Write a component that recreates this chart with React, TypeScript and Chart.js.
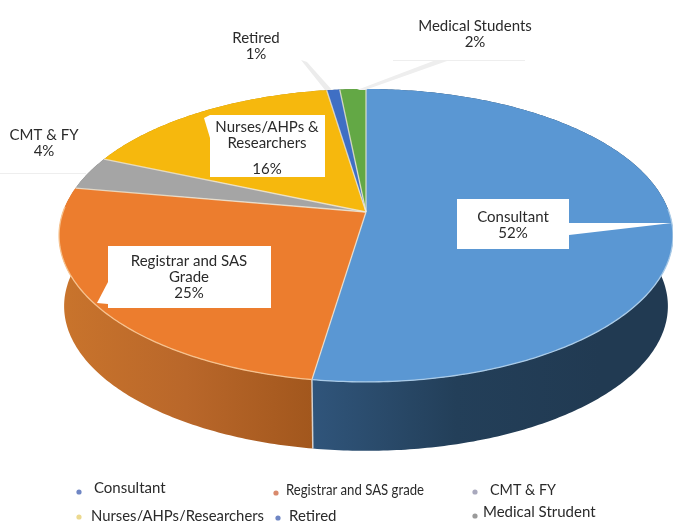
import React, { useEffect, useRef } from "react";
import { Chart, registerables } from "chart.js";

Chart.register(...registerables);

const categories = ["Consultant", "Registrar and SAS grade", "Nurses/AHPs/Researchers", "CMT & FY", "Retired", "Medical Strudent"];
// drawn clockwise from 12 o'clock
const sliceNames = ["Consultant", "Registrar and SAS grade", "CMT & FY", "Nurses/AHPs/Researchers", "Retired", "Medical Strudent"];
const sliceValues = [52.4, 25.36, 3.69, 16.15, 0.8, 1.6];
const sliceColors = ["#5a97d3", "#ec7d2e", "#a5a5a5", "#f6b80d", "#3f6fc4", "#63a845"];
const wallFrom = ["#30557b", "#c9742c", "#7d7d7d", "#b98a08", "#2f5493", "#4b7e34"];
const wallMid = ["#233f59", "#b9672a", "#7d7d7d", "#b98a08", "#2f5493", "#4b7e34"];
const wallTo = ["#213a52", "#a2571d", "#7d7d7d", "#b98a08", "#2f5493", "#4b7e34"];

const dataLabels = [
  { lines: ["Consultant", "52%"], x: 513, y: 217 },
  { lines: ["Registrar and SAS", "Grade", "25%"], x: 189, y: 261 },
  { lines: ["Nurses/AHPs &", "Researchers"], x: 267, y: 127 },
  { lines: ["16%"], x: 267, y: 169 },
  { lines: ["CMT & FY", "4%"], x: 44, y: 135 },
  { lines: ["Retired", "1%"], x: 256, y: 38 },
  { lines: ["Medical Students", "2%"], x: 475, y: 26 },
];

const legendEntries = [
  { name: categories[0], x: 94, y: 488, mx: 79, my: 492, color: "#6f86c4", width: 74 },
  { name: categories[1], x: 286, y: 490, mx: 276, my: 493, color: "#d98a6c", width: 138 },
  { name: categories[3], x: 490, y: 490, mx: 475, my: 492, color: "#a9a9bd", width: 66 },
  { name: categories[2], x: 91, y: 516, mx: 79, my: 517, color: "#ecd98f", width: 173 },
  { name: categories[4], x: 289, y: 516, mx: 278, my: 518, color: "#6f86c4", width: 50 },
  { name: categories[5], x: 483, y: 512, mx: 475, my: 516, color: "#9a9a9a", width: 115 },
];

const TOP = { cx: 366, cy: 212, a: 303, b: 142.7, k: 0.16 };
const BOTTOM = { cx: 366, cy: 283, a: 298, b: 141, k: 0.16 };

type Plane = typeof TOP;
const project = (p: Plane, theta: number) => {
  const u = Math.sin(theta);
  const v = -Math.cos(theta);
  const w = 1 - p.k * v;
  return [p.cx + (p.a * u) / w, p.cy + (p.b * v) / w];
};

const polygon = (ctx: CanvasRenderingContext2D, pts: number[][]) => {
  ctx.beginPath();
  pts.forEach((q, i) => (i ? ctx.lineTo(q[0], q[1]) : ctx.moveTo(q[0], q[1])));
  ctx.closePath();
};

const sampleRim = (p: Plane, t0: number, t1: number) => {
  const n = Math.max(2, Math.ceil((t1 - t0) * 80));
  const out: number[][] = [];
  for (let i = 0; i <= n; i++) out.push(project(p, t0 + ((t1 - t0) * i) / n));
  return out;
};

const pie3d = {
  id: "pie3d",
  beforeDatasetsDraw(chart: any) {
    const ctx: CanvasRenderingContext2D = chart.ctx;
    const arcs = chart.getDatasetMeta(0).data;
    const angles = arcs.map((el: any) => {
      const s = el.getProps(["startAngle", "endAngle"], true);
      return [s.startAngle + Math.PI / 2, s.endAngle + Math.PI / 2];
    });
    ctx.save();
    // side wall
    angles.forEach(([t0, t1]: number[], i: number) => {
      const top = sampleRim(TOP, t0, t1);
      const bot = sampleRim(BOTTOM, t0, t1).reverse();
      const g = i === 0
        ? ctx.createLinearGradient(312, 0, 600, 0)
        : ctx.createLinearGradient(60, 0, 312, 0);
      g.addColorStop(0, wallFrom[i]);
      g.addColorStop(0.5, wallMid[i]);
      g.addColorStop(1, wallTo[i]);
      polygon(ctx, [...top, ...bot]);
      ctx.fillStyle = g;
      ctx.fill();
    });
    // seam between the two front walls
    const seamA = project(TOP, angles[0][1]);
    const seamB = project(BOTTOM, angles[0][1]);
    ctx.strokeStyle = "rgba(225,225,225,0.85)";
    ctx.lineWidth = 1.5;
    ctx.beginPath();
    ctx.moveTo(seamA[0], seamA[1]);
    ctx.lineTo(seamB[0], seamB[1]);
    ctx.stroke();
    // top face
    angles.forEach(([t0, t1]: number[], i: number) => {
      polygon(ctx, [[TOP.cx, TOP.cy], ...sampleRim(TOP, t0, t1)]);
      ctx.fillStyle = sliceColors[i];
      ctx.fill();
    });
    // slice edges
    ctx.strokeStyle = "rgba(240,232,215,0.8)";
    ctx.lineWidth = 1.3;
    angles.forEach(([t0]: number[]) => {
      const a = project(TOP, t0);
      ctx.beginPath();
      ctx.moveTo(TOP.cx, TOP.cy);
      ctx.lineTo(a[0], a[1]);
      ctx.stroke();
    });
    // lit rim on the front
    angles.slice(0, 2).forEach(([t0, t1]: number[], i: number) => {
      const from = i === 0 ? 1.55 : t0;
      const to = i === 1 ? 4.75 : t1;
      ctx.beginPath();
      sampleRim(TOP, from, to).forEach((q, j) => (j ? ctx.lineTo(q[0], q[1]) : ctx.moveTo(q[0], q[1])));
      ctx.strokeStyle = i === 0 ? "#aacbe8" : "#f6c28f";
      ctx.lineWidth = 1.3;
      ctx.stroke();
    });

    // leader lines
    const band = (pts: number[][], color: string) => {
      polygon(ctx, pts);
      ctx.fillStyle = color;
      ctx.fill();
    };
    band([[301, 60], [307, 62], [332, 90], [325, 90]], "#ececec");
    band([[357, 90], [365, 90], [447, 61], [436, 60]], "#eeeeee");
    ctx.strokeStyle = "#eeeeee";
    ctx.lineWidth = 1;
    ctx.beginPath();
    ctx.moveTo(393, 60.5);
    ctx.lineTo(525, 60.5);
    ctx.moveTo(0, 173.5);
    ctx.lineTo(86, 173.5);
    ctx.stroke();
    band([[569, 223], [569, 235], [672, 223]], "#ffffff");
    band([[108, 282], [108, 304], [97, 303]], "#ffffff");
    band([[210, 115], [210, 138], [204, 118]], "#ffffff");

    // label boxes
    ctx.fillStyle = "#ffffff";
    ctx.fillRect(457, 199, 112, 50);
    ctx.fillRect(108, 246, 163, 62);
    ctx.fillRect(210, 115, 115, 62);

    ctx.font = "15px Lato";
    ctx.fillStyle = "#2a2a2a";
    ctx.textAlign = "center";
    ctx.textBaseline = "middle";
    dataLabels.forEach((d) => {
      d.lines.forEach((line, i) => ctx.fillText(line, d.x, d.y + i * 16));
    });

    // legend
    ctx.textAlign = "left";
    legendEntries.forEach((e) => {
      ctx.fillStyle = e.color;
      ctx.beginPath();
      ctx.arc(e.mx, e.my, 2.6, 0, Math.PI * 2);
      ctx.fill();
      ctx.fillStyle = "#2a2a2a";
      ctx.fillText(e.name, e.x, e.y, e.width);
    });
    ctx.restore();
    return false;
  },
};

export default function App() {
  const ref = useRef<HTMLCanvasElement>(null);
  useEffect(() => {
    const chart = new Chart(ref.current!, {
      type: "pie",
      data: {
        labels: sliceNames,
        datasets: [{ data: sliceValues, backgroundColor: sliceColors }],
      },
      options: {
        responsive: false,
        animation: false,
        plugins: { legend: { display: false }, tooltip: { enabled: false } },
      },
      plugins: [pie3d],
    } as any);
    return () => chart.destroy();
  }, []);
  return (
    <div style={{ position: "fixed", left: 0, top: 0, width: 673, height: 521, background: "#fff", overflow: "hidden" }}>
      <canvas ref={ref} width={673} height={521} style={{ display: "block", filter: "blur(0.4px)" }} />
    </div>
  );
}
